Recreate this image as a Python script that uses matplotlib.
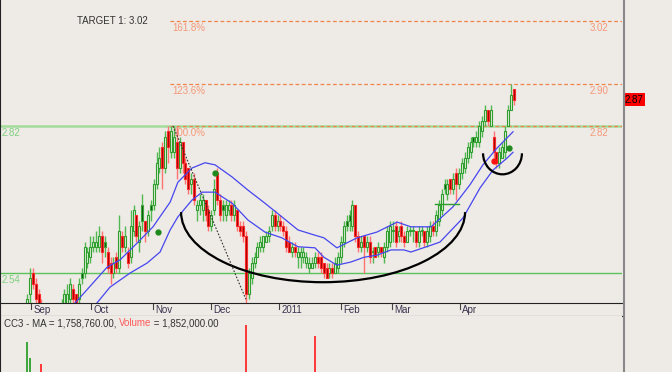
import numpy as np
import matplotlib
matplotlib.use("Agg")
import matplotlib.pyplot as plt
import matplotlib.transforms as mtransforms
from matplotlib.patches import Arc
from matplotlib.lines import Line2D

# daily bars, late Aug 2010 .. Apr 2011 (price in SGD)
opens = [2.47, 2.50, 2.54, 2.52, 2.50, 2.48, 2.46, 2.45, 2.44, 2.45, 2.46, 2.45, 2.46, 2.47, 2.48, 2.49, 2.51, 2.50, 2.49, 2.54,
         2.54, 2.56, 2.57, 2.59, 2.59, 2.59, 2.61, 2.60, 2.58, 2.56, 2.54, 2.57, 2.55, 2.61, 2.59, 2.58, 2.57, 2.62, 2.65, 2.60,
         2.67, 2.64, 2.62, 2.67, 2.67, 2.71, 2.74, 2.78, 2.74, 2.81, 2.77, 2.77, 2.79, 2.74, 2.79, 2.75, 2.74, 2.71, 2.72, 2.66,
         2.67, 2.66, 2.68, 2.66, 2.63, 2.66, 2.73, 2.68, 2.67, 2.65, 2.66, 2.67, 2.65, 2.66, 2.63, 2.63, 2.61, 2.50, 2.53, 2.56,
         2.57, 2.59, 2.59, 2.60, 2.61, 2.63, 2.65, 2.63, 2.64, 2.63, 2.62, 2.60, 2.58, 2.59, 2.57, 2.57, 2.57, 2.56, 2.55, 2.55,
         2.56, 2.57, 2.57, 2.56, 2.55, 2.54, 2.55, 2.54, 2.55, 2.57, 2.60, 2.64, 2.65, 2.63, 2.67, 2.61, 2.59, 2.61, 2.59, 2.60,
         2.58, 2.59, 2.58, 2.59, 2.57, 2.59, 2.60, 2.62, 2.63, 2.61, 2.63, 2.61, 2.60, 2.62, 2.62, 2.62, 2.60, 2.62, 2.62, 2.60,
         2.61, 2.63, 2.62, 2.64, 2.66, 2.71, 2.69, 2.72, 2.70, 2.73, 2.71, 2.73, 2.74, 2.76, 2.77, 2.80, 2.79, 2.79, 2.81, 2.83,
         2.85, 2.82, 2.80, 2.77, 2.75, 2.76, 2.77, 2.82, 2.85, 2.89]
highs = [2.50, 2.55, 2.55, 2.53, 2.51, 2.49, 2.47, 2.46, 2.46, 2.47, 2.47, 2.47, 2.49, 2.51, 2.52, 2.53, 2.52, 2.50, 2.53, 2.55,
         2.60, 2.59, 2.61, 2.61, 2.62, 2.63, 2.62, 2.61, 2.59, 2.57, 2.57, 2.58, 2.65, 2.62, 2.63, 2.59, 2.66, 2.67, 2.65, 2.64,
         2.69, 2.64, 2.66, 2.68, 2.72, 2.77, 2.78, 2.79, 2.81, 2.82, 2.82, 2.82, 2.82, 2.80, 2.79, 2.76, 2.74, 2.73, 2.73, 2.68,
         2.69, 2.69, 2.68, 2.67, 2.66, 2.72, 2.74, 2.69, 2.68, 2.68, 2.68, 2.68, 2.68, 2.66, 2.64, 2.64, 2.62, 2.55, 2.57, 2.58,
         2.60, 2.61, 2.61, 2.62, 2.63, 2.66, 2.66, 2.65, 2.65, 2.64, 2.63, 2.61, 2.60, 2.60, 2.59, 2.59, 2.59, 2.58, 2.57, 2.57,
         2.58, 2.58, 2.58, 2.56, 2.56, 2.56, 2.56, 2.57, 2.58, 2.61, 2.64, 2.65, 2.66, 2.68, 2.67, 2.62, 2.61, 2.61, 2.61, 2.61,
         2.59, 2.59, 2.60, 2.59, 2.60, 2.63, 2.64, 2.64, 2.64, 2.63, 2.64, 2.62, 2.63, 2.63, 2.63, 2.62, 2.63, 2.63, 2.62, 2.63,
         2.64, 2.64, 2.66, 2.68, 2.70, 2.72, 2.72, 2.72, 2.73, 2.74, 2.74, 2.76, 2.77, 2.79, 2.80, 2.80, 2.81, 2.83, 2.84, 2.86,
         2.85, 2.86, 2.81, 2.77, 2.78, 2.79, 2.82, 2.86, 2.90, 2.89]
lows = [2.46, 2.48, 2.51, 2.48, 2.47, 2.45, 2.44, 2.43, 2.43, 2.44, 2.44, 2.44, 2.45, 2.46, 2.47, 2.48, 2.47, 2.46, 2.48, 2.52,
        2.53, 2.55, 2.56, 2.58, 2.58, 2.58, 2.56, 2.57, 2.54, 2.52, 2.53, 2.54, 2.54, 2.58, 2.58, 2.55, 2.56, 2.61, 2.60, 2.58,
        2.62, 2.60, 2.61, 2.64, 2.66, 2.70, 2.73, 2.70, 2.73, 2.75, 2.76, 2.76, 2.72, 2.73, 2.73, 2.71, 2.69, 2.69, 2.67, 2.64,
        2.65, 2.64, 2.64, 2.62, 2.62, 2.65, 2.67, 2.64, 2.64, 2.64, 2.65, 2.64, 2.64, 2.62, 2.61, 2.60, 2.48, 2.49, 2.52, 2.55,
        2.57, 2.58, 2.58, 2.60, 2.60, 2.62, 2.62, 2.62, 2.62, 2.61, 2.58, 2.58, 2.57, 2.57, 2.55, 2.55, 2.56, 2.55, 2.54, 2.55,
        2.55, 2.55, 2.54, 2.53, 2.53, 2.53, 2.53, 2.54, 2.54, 2.56, 2.59, 2.62, 2.62, 2.62, 2.60, 2.58, 2.58, 2.54, 2.58, 2.56,
        2.56, 2.57, 2.57, 2.57, 2.56, 2.58, 2.59, 2.60, 2.59, 2.60, 2.60, 2.59, 2.60, 2.61, 2.60, 2.59, 2.59, 2.61, 2.59, 2.59,
        2.60, 2.61, 2.61, 2.63, 2.65, 2.69, 2.68, 2.69, 2.69, 2.68, 2.70, 2.72, 2.73, 2.75, 2.76, 2.78, 2.78, 2.78, 2.80, 2.82,
        2.82, 2.82, 2.76, 2.74, 2.74, 2.76, 2.76, 2.82, 2.85, 2.86]
closes = [2.49, 2.53, 2.52, 2.49, 2.48, 2.46, 2.45, 2.44, 2.45, 2.46, 2.45, 2.46, 2.48, 2.50, 2.50, 2.52, 2.49, 2.48, 2.52, 2.53,
          2.59, 2.58, 2.59, 2.60, 2.60, 2.61, 2.58, 2.59, 2.55, 2.54, 2.56, 2.55, 2.62, 2.59, 2.61, 2.56, 2.63, 2.66, 2.61, 2.63,
          2.64, 2.62, 2.65, 2.66, 2.71, 2.75, 2.76, 2.74, 2.80, 2.78, 2.81, 2.80, 2.74, 2.79, 2.75, 2.72, 2.70, 2.72, 2.68, 2.67,
          2.68, 2.68, 2.65, 2.63, 2.65, 2.70, 2.68, 2.65, 2.66, 2.67, 2.67, 2.65, 2.67, 2.63, 2.62, 2.61, 2.50, 2.54, 2.56, 2.57,
          2.59, 2.60, 2.61, 2.61, 2.62, 2.65, 2.63, 2.64, 2.63, 2.62, 2.59, 2.58, 2.59, 2.58, 2.58, 2.58, 2.58, 2.57, 2.56, 2.56,
          2.57, 2.56, 2.55, 2.54, 2.53, 2.55, 2.54, 2.56, 2.57, 2.60, 2.63, 2.63, 2.64, 2.67, 2.61, 2.59, 2.60, 2.59, 2.60, 2.57,
          2.58, 2.57, 2.59, 2.58, 2.59, 2.62, 2.63, 2.62, 2.60, 2.62, 2.61, 2.60, 2.62, 2.62, 2.62, 2.60, 2.62, 2.62, 2.60, 2.62,
          2.63, 2.62, 2.65, 2.67, 2.69, 2.70, 2.71, 2.70, 2.72, 2.71, 2.73, 2.75, 2.76, 2.78, 2.79, 2.79, 2.80, 2.82, 2.83, 2.85,
          2.83, 2.85, 2.77, 2.75, 2.77, 2.78, 2.81, 2.85, 2.88, 2.87]

# the two moving averages (bar index, price)
ma_fast_x = [16.7, 20.8, 27.8, 32.3, 37.5, 43.75, 49.7, 52.4, 57.3, 61.8, 65.3, 71.2, 76.7, 82.6, 88.5, 94.1, 100.0,
             103.1, 107.6, 114.6, 121.5, 128.5, 133.3, 140.3, 147.9, 153.8, 158.3, 163.2, 168.75]
ma_fast_y = [2.483, 2.508, 2.551, 2.565, 2.593, 2.628, 2.675, 2.713, 2.740, 2.750, 2.746, 2.723, 2.698, 2.673, 2.647,
             2.622, 2.612, 2.607, 2.588, 2.607, 2.618, 2.637, 2.628, 2.628, 2.666, 2.708, 2.746, 2.778, 2.809]
ma_slow_x = [24.3, 28.8, 35.8, 41.7, 46.2, 49.7, 52.4, 57.3, 60.8, 65.3, 71.2, 76.7, 82.6, 88.5, 94.1, 100.0, 103.1,
             107.6, 112.5, 117.0, 121.5, 126.4, 130.9, 133.3, 140.3, 143.4, 151.4, 157.3, 161.8, 166.7, 168.75]
ma_slow_y = [2.483, 2.513, 2.540, 2.559, 2.580, 2.622, 2.647, 2.679, 2.694, 2.694, 2.673, 2.641, 2.618, 2.607, 2.590,
             2.588, 2.570, 2.555, 2.561, 2.570, 2.574, 2.584, 2.584, 2.580, 2.593, 2.599, 2.645, 2.702, 2.736, 2.759, 2.770]

# volume: only the bars tall enough to show in the pane
vol_idx = [0, 1, 5, 76, 100]
vol_val = [4.14e6, 3.0e6, 2.57e6, 5.36e6, 4.57e6]
vol_dir = ["up", "up", "down", "down", "down"]

month_labels = ["Sep", "Oct", "Nov", "Dec", "2011", "Feb", "Mar", "Apr"]
month_pos = [1.4, 22.2, 43.75, 63.9, 87.5, 109.0, 126.7, 150.3]

fib_labels = ["161.8%", "123.6%", "100.0%"]
fib_prices = [3.02, 2.90, 2.82]
support = 2.54
resist = 2.82
last_price = 2.87

signal_up = [(45.5, 2.618), (65.3, 2.730), (167.4, 2.778)]
signal_dn = [(162.2, 2.753)]

bg = "#EEEAE5"
plt.rcParams["font.family"] = ["Liberation Sans", "DejaVu Sans"]
plt.rcParams["font.size"] = 7

fig = plt.figure(figsize=(6.72, 3.72), dpi=100, facecolor=bg)
W, H = 672.0, 372.0
right = 622 / W
ax = fig.add_axes([0, (H - 303) / H, right, 303 / H], facecolor=bg)
axd = fig.add_axes([0, (H - 316) / H, right, 13 / H], facecolor=bg)
axv = fig.add_axes([0, 0, right, (H - 316) / H], facecolor=bg)

xlim = (-27 / 2.88, (622 - 27) / 2.88)
for a in (ax, axd, axv):
    a.set_xlim(*xlim)
    a.set_xticks([])
    a.set_yticks([])
    for s in a.spines.values():
        s.set_visible(False)
    a.spines["left"].set_visible(True)
    a.spines["left"].set_color("#222222")

ax.set_ylim(2.4829, 3.06)

# horizontal levels
ax.axhline(resist, color="#A4DC9C", lw=1.8, zorder=1)
ax.axhline(support, color="#5CC25C", lw=1.0, zorder=1)
ax.text(-8.9, resist - 0.004, "%.2f" % resist, color="#80D080", va="top", ha="left")
ax.text(-8.9, support - 0.004, "%.2f" % support, color="#80D080", va="top", ha="left")
for lab, p in zip(fib_labels, fib_prices):
    ax.plot([49.7, xlim[1]], [p, p], color="#F0834A", lw=0.9, ls=(0, (3, 2)), zorder=2)
    ax.text(50.3, p - 0.004, lab, color="#F59878", va="top", ha="left")
    ax.text(195.3, p - 0.004, "%.2f" % p, color="#F59878", va="top", ha="left")
ax.text(17.5, 3.02, "TARGET 1: %.2f" % fib_prices[0], color="#333333", va="center", ha="left")

# candles
x = np.arange(len(closes))
o, h, l, c = map(np.array, (opens, highs, lows, closes))
prev = np.r_[c[0], c[:-1]]
up = c >= o
dark = (~up) & (c >= prev)
red = (~up) & (~dark)
ax.vlines(x[~red], l[~red], h[~red], color="#52B852", lw=1, zorder=3)
ax.vlines(x[red], l[red], h[red], color="#FF7272", lw=1, zorder=3)
bw = 0.7
ax.bar(x[up], np.maximum(c[up] - o[up], 0.002), bottom=o[up], width=bw,
       facecolor="#E2EEDA", edgecolor="#2E9E2E", lw=0.8, zorder=4)
ax.bar(x[dark], o[dark] - c[dark], bottom=c[dark], width=bw,
       facecolor="#0E4E0E", edgecolor="#3AAA3A", lw=0.8, zorder=4)
ax.bar(x[red], o[red] - c[red], bottom=c[red], width=bw,
       facecolor="#A00000", edgecolor="#FF2A2A", lw=0.8, zorder=4)

# moving averages
ax.plot(ma_fast_x, ma_fast_y, color="#4646F0", lw=0.9, zorder=5)
ax.plot(ma_slow_x, ma_slow_y, color="#4646F0", lw=0.9, zorder=5)

# drawings: cup and handle, trend line, breakout line, signals
ax.add_patch(Arc((102.8, 2.656), 98.6, 0.267, theta1=180, theta2=360, color="black", lw=1.6, zorder=6))
ax.add_patch(Arc((165.1, 2.768), 13.5, 0.080, theta1=180, theta2=360, color="black", lw=1.6, zorder=6))
ax.plot([50.7, 76.0], [2.82, 2.49], color="#333333", lw=0.8, ls=(0, (1.5, 1.5)), zorder=6)
ax.plot([141.7, 150.0], [2.672, 2.672], color="#2E9E2E", lw=1.0, zorder=6)
ax.plot([p[0] for p in signal_up], [p[1] for p in signal_up], "o", ms=3.5, color="#1E8A1E", zorder=7)
ax.plot([p[0] for p in signal_dn], [p[1] for p in signal_dn], "o", ms=3.5, color="#FF1010", zorder=7)

# last price box on the right scale
trans = mtransforms.blended_transform_factory(ax.transAxes, ax.transData)
ax.text(1.004, last_price, "%.2f" % last_price, transform=trans, va="center", ha="left", color="black",
        clip_on=False, bbox=dict(boxstyle="square,pad=0.15", fc="#FF0000", ec="none"))

# date strip
axd.set_ylim(0, 1)
axd.spines["top"].set_visible(True)
axd.spines["bottom"].set_visible(True)
axd.spines["top"].set_color("#222222")
axd.spines["bottom"].set_color("#222222")
for lab, m in zip(month_labels, month_pos):
    axd.plot([m, m], [1.0, 0.55], color="#444444", lw=0.8)
    axd.text(m + 0.9, 0.45, lab, color="#3A3350", va="center", ha="left")

# volume pane
axv.set_ylim(2.0e6, 6.0e6)
vcol = ["#1E9A1E" if d == "up" else "#FF1A1A" for d in vol_dir]
axv.vlines(vol_idx, 0, vol_val, colors=vcol, lw=1.2)
t1 = axv.text(0.006, 0.87, "CC3 - MA = 1,758,760.00, ", transform=axv.transAxes, color="#333333", va="center")
fig.canvas.draw()
r = fig.canvas.get_renderer()
bb = t1.get_window_extent(r)
x1 = axv.transAxes.inverted().transform((bb.x1, bb.y0))[0]
t2 = axv.text(x1, 0.87, "Volume", transform=axv.transAxes, color="#FF5A5A", va="center")
bb2 = t2.get_window_extent(r)
x2 = axv.transAxes.inverted().transform((bb2.x1, bb2.y0))[0]
axv.text(x2, 0.87, " = 1,852,000.00", transform=axv.transAxes, color="#333333", va="center")

# separator between chart and price scale
fig.add_artist(Line2D([623.5 / W, 623.5 / W], [0, 1], transform=fig.transFigure, color="#888888", lw=1.5))

fig.savefig("out.png", dpi=100, facecolor=bg)
